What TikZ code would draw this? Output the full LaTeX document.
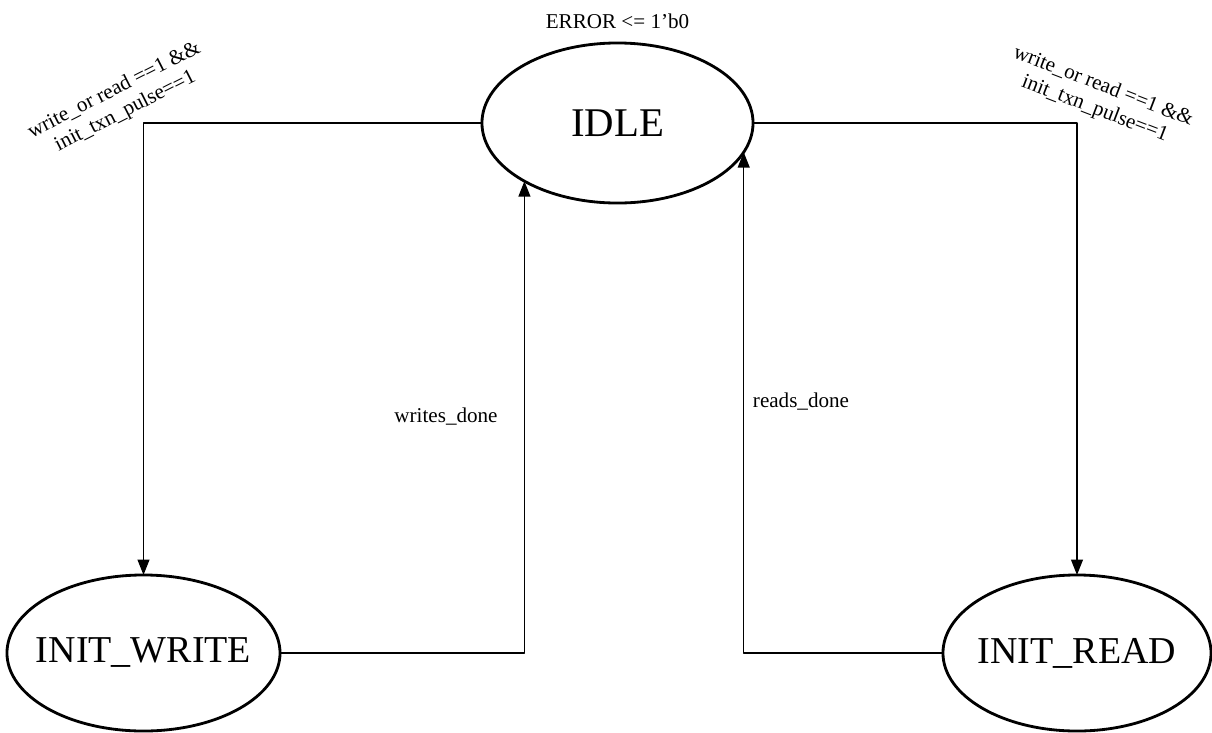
\documentclass[tikz,border=0pt]{standalone}
\usepackage{fontspec}
\setmainfont{Liberation Serif}
\usetikzlibrary{shapes.geometric,arrows.meta}

\begin{document}
\begin{tikzpicture}[x=0.025cm,y=-0.025cm,line cap=round,line join=round,
    state/.style={ellipse,draw,line width=2pt,inner xsep=-8pt,inner ysep=0pt,
        outer sep=0pt},
    trans/.style={-{Triangle[length=11pt,width=8.5pt]},line width=0.9pt},
    cond/.style={font=\fontsize{15}{17}\selectfont,align=center}]

    \useasboundingbox (0,0) rectangle (1212,732);

    % States of the machine
    \node[state,minimum width=6.775cm,minimum height=4cm,
        font=\fontsize{29}{32}\selectfont] (idle) at (617.5,123) {IDLE};
    \node[state,minimum width=6.825cm,minimum height=3.9cm,
        font=\fontsize{27}{30}\selectfont] (iw) at (143.5,653) {INIT\_WRITE};
    \node[state,minimum width=6.7cm,minimum height=3.9cm,
        font=\fontsize{27}{30}\selectfont] (ir) at (1077,653) {INIT\_READ};

    % Output set in IDLE
    \node[cond,anchor=base] (err) at (617.5,28) {ERROR <= 1’b0};

    % Start of a transaction
    \draw[trans] (idle.west) -| (iw.north);
    \draw[trans] (idle.east) -| (ir.north);
    \node[cond,rotate=27] (wcond) at (120,101)
        {write\_or read ==1 \&\&\\init\_txn\_pulse==1};
    \node[cond,rotate=-21] (rcond) at (1099,98)
        {write\_or read ==1 \&\&\\init\_txn\_pulse==1};

    % Back to IDLE when done
    \draw[trans] (iw.east) -| (idle.212);
    \draw[trans] (ir.west) -| (idle.347);
    \node[cond,anchor=base] (wdone) at (446,422) {writes\_done};
    \node[cond,anchor=base] (rdone) at (801,407) {reads\_done};
\end{tikzpicture}
\end{document}
